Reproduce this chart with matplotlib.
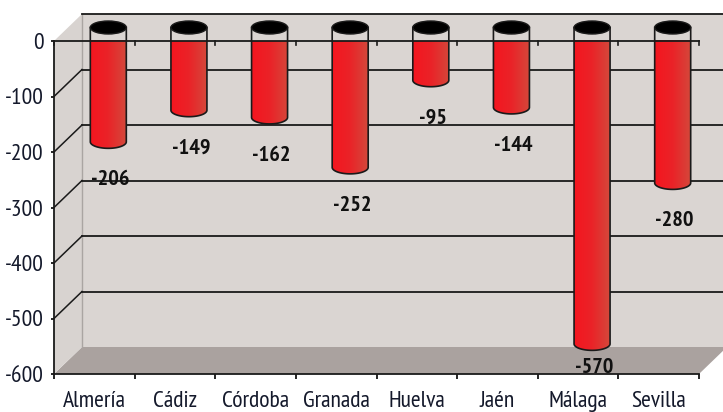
import numpy as np
import matplotlib
matplotlib.use('Agg')
import matplotlib.pyplot as plt
from matplotlib.patches import Polygon, PathPatch, Ellipse
from matplotlib.path import Path
from matplotlib.colors import LinearSegmentedColormap
from matplotlib import font_manager as fm

categories = ['Almería', 'Cádiz', 'Córdoba', 'Granada', 'Huelva', 'Jaén', 'Málaga', 'Sevilla']
values = [-206, -149, -162, -252, -95, -144, -570, -280]
y_ticks = [0, -100, -200, -300, -400, -500, -600]

names = set(f.name for f in fm.fontManager.ttflist)
prefs = ['Liberation Sans Narrow', 'Arial Narrow', 'PT Sans Narrow', 'Roboto Condensed',
         'Archivo Narrow', 'Fira Sans Condensed']
FAM = None
for p in prefs:
    if p in names:
        FAM = p
        break
if FAM is None:
    FAM = 'DejaVu Sans'
plt.rcParams['font.family'] = [FAM, 'DejaVu Sans']
FS = 17
FSB = 16

W, H = 723, 412
fig = plt.figure(figsize=(W / 100, H / 100), dpi=100)
fig.patch.set_facecolor('white')
L, R, T, B = 54, 699, 41, 374
ax = fig.add_axes([L / W, (H - B) / H, (R - L) / W, (B - T) / H])
n = len(categories)
ymin, ymax = min(y_ticks), max(y_ticks)
ax.set_xlim(-0.5, n - 0.5)
ax.set_ylim(ymin, ymax)
ax.patch.set_visible(False)
sx = n / (R - L)
sy = (ymax - ymin) / (B - T)
ddx, ddy = 28 * sx, 27 * sy
x0, x1 = -0.5, n - 0.5

wall_c = '#dad5d2'
side_c = '#d8d3d0'
floor_c = '#aaa29f'
ax.add_patch(Polygon([(x0 + ddx, ymin + ddy), (x1 + ddx, ymin + ddy), (x1 + ddx, ymax + ddy), (x0 + ddx, ymax + ddy)],
                     closed=True, facecolor=wall_c, edgecolor='none', clip_on=False, zorder=0))
ax.add_patch(Polygon([(x0, ymin), (x0 + ddx, ymin + ddy), (x1 + ddx, ymin + ddy), (x1, ymin)],
                     closed=True, facecolor=floor_c, edgecolor='none', clip_on=False, zorder=0.1))
ax.add_patch(Polygon([(x0, ymax), (x0 + ddx, ymax + ddy), (x0 + ddx, ymin + ddy), (x0, ymin)],
                     closed=True, facecolor=side_c, edgecolor='none', clip_on=False, zorder=0.1))
ax.plot([x0 + ddx, x0 + ddx], [ymax + ddy, ymin + ddy], color='#aaa5a2', lw=1, clip_on=False, zorder=0.2)

for v in y_ticks[:-1]:
    ax.plot([x0 + ddx, x1 + ddx], [v + ddy, v + ddy], color='#1a1a1a', lw=1.3, clip_on=False, zorder=0.5)
for v in y_ticks[1:-1]:
    ax.plot([x0, x0 + ddx], [v, v + ddy], color='#1a1a1a', lw=1.1, clip_on=False, zorder=0.5)

cmap = LinearSegmentedColormap.from_list('cyl', ['#f4161f', '#ea2328', '#d4483b'])
grad = np.linspace(0, 1, 128)[None, :]
half_w = 18 * sx
eh = 6.5 * sy
mid_dx, mid_dy = 14 * sx, 13.5 * sy
theta = np.linspace(np.pi, 2 * np.pi, 60)
for i, v in enumerate(values):
    cx = i + mid_dx
    yt = 0 + mid_dy
    yb = v + mid_dy
    verts = [(cx - half_w, yt), (cx - half_w, yb)]
    verts += list(zip(cx + half_w * np.cos(theta), yb + eh * np.sin(theta)))
    verts += [(cx + half_w, yt), (cx - half_w, yt)]
    codes = [Path.MOVETO] + [Path.LINETO] * (len(verts) - 2) + [Path.CLOSEPOLY]
    body = PathPatch(Path(verts, codes), facecolor='none', edgecolor='#1a1a1a', lw=1.2,
                     clip_on=False, zorder=2.2)
    ax.add_patch(body)
    im = ax.imshow(grad, cmap=cmap, extent=[cx - half_w, cx + half_w, yb - eh, yt],
                   aspect='auto', interpolation='bilinear', zorder=2.1)
    im.set_clip_path(body)
    im.set_clip_box(None)
    ax.add_patch(Ellipse((cx, yt), 2 * half_w, 2 * eh, facecolor='black', edgecolor='#1a1a1a',
                         lw=1, clip_on=False, zorder=2.3))
    ly = max(v + mid_dy - 38 * sy, ymin + 7 * sy)
    ax.text(cx + 2 * sx, ly, f'{v}', ha='center', va='center', fontsize=FSB, fontweight='bold',
            color='#111111', zorder=4, clip_on=False)

ax.set_ylim(ymin, ymax)
ax.set_xlim(x0, x1)

for s in ['left', 'bottom', 'top']:
    ax.spines[s].set_color('#1a1a1a')
    ax.spines[s].set_linewidth(1.3)
    ax.spines[s].set_zorder(3)
ax.spines['right'].set_visible(False)

ax.set_yticks(y_ticks)
ax.set_yticklabels([str(t) for t in y_ticks])
ax.tick_params(axis='y', direction='out', length=2.5, width=1.2, pad=5, labelsize=FS, labelcolor='#14192b')
ax.set_xticks(range(n))
ax.set_xticklabels(categories)
ax.set_xticks(np.arange(-0.5, n, 1.0), minor=True)
ax.tick_params(axis='x', which='major', length=0, pad=12, labelsize=FS, labelcolor='#14192b')
ax.tick_params(axis='x', which='minor', direction='out', length=3.5, width=1.2)
for b in np.arange(-0.5, n, 1.0):
    ax.plot([b, b], [ymax, ymax - 4 * sy], color='#1a1a1a', lw=1.2, clip_on=False, zorder=3)

fig.savefig('out.png', dpi=100, facecolor='white')
